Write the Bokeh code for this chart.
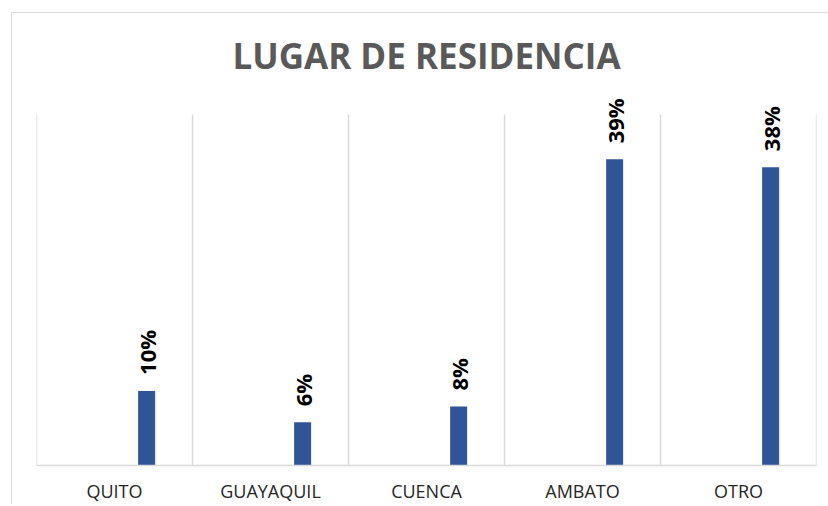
import numpy as np
from bokeh.plotting import figure
from bokeh.models import FixedTicker, ColumnDataSource
from bokeh.core.properties import value
from bokeh.embed import file_html
from bokeh.resources import INLINE

# ---- data ----
categories = ["QUITO", "GUAYAQUIL", "CUENCA", "AMBATO", "OTRO"]
values = [9.5, 5.5, 7.5, 39.0, 38.0]          # percent
labels = ["10%", "6%", "8%", "39%", "38%"]
title_text = "LUGAR DE RESIDENCIA"

# ---- style ----
BAR_COLOR = "#2f5597"
GRID_COLOR = "#d9d9d9"
BAR_OFFSET = 0.206
BAR_WIDTH = 0.109
GRID_TOP = 44.7      # where the category separators end
Y_END = 47.26        # extra headroom for the rotated labels

n = len(categories)
centers = np.arange(n) + 0.5
src = ColumnDataSource(dict(x=centers + BAR_OFFSET, top=values, label=labels))

p = figure(width=817, height=492, x_range=(0, n), y_range=(0, Y_END),
           output_backend="svg", toolbar_location=None,
           min_border_left=24, min_border_right=13,
           min_border_top=77, min_border_bottom=40)
p.margin = (12, 0, 0, 11)
p.styles = {"border-top": "1px solid #d9d9d9", "border-left": "1px solid #d9d9d9"}
p.outline_line_color = None
p.background_fill_color = "white"
p.border_fill_color = "white"

p.title.text = title_text
p.title.align = "center"
p.title.text_font = "Open Sans"
p.title.text_font_size = "35px"
p.title.text_font_style = "bold"
p.title.text_color = "#595959"
p.title.standoff = 32

# category separators (vertical grid lines that stop below the label area)
p.xgrid.visible = False
p.ygrid.visible = False
bounds = list(range(n + 1))
p.segment(x0=bounds, y0=[0] * len(bounds), x1=bounds, y1=[GRID_TOP] * len(bounds),
          line_color=GRID_COLOR, line_width=1.5)

p.vbar(x="x", top="top", bottom=0, width=BAR_WIDTH, source=src,
       fill_color=BAR_COLOR, line_color=None)

p.text(x="x", y="top", text="label", source=src, angle=np.pi / 2,
       text_align="left", text_baseline="middle", y_offset=-16,
       text_font=value("Open Sans"), text_font_style="bold",
       text_font_size="22px", text_color="black")

p.xaxis.ticker = FixedTicker(ticks=list(centers))
p.xaxis.major_label_overrides = {float(c): cat for c, cat in zip(centers, categories)}
p.xaxis.major_label_text_font = "Open Sans"
p.xaxis.major_label_text_font_size = "18px"
p.xaxis.major_label_text_color = "#262626"
p.xaxis.major_label_standoff = 7
p.xaxis.axis_line_color = GRID_COLOR
p.xaxis.axis_line_width = 1.5
p.xaxis.major_tick_line_color = None
p.xaxis.minor_tick_line_color = None
p.yaxis.visible = False

open("out.html", "w").write(file_html(p, INLINE))
